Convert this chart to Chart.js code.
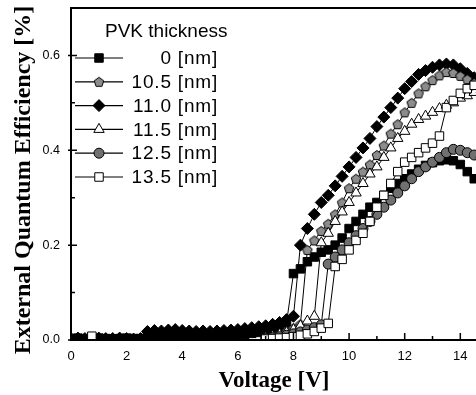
<!DOCTYPE html>
<html>
<head>
<meta charset="utf-8">
<script src="https://cdn.jsdelivr.net/npm/chart.js@4.4.1/dist/chart.umd.min.js"></script>
<style>
  html, body { margin: 0; padding: 0; background: #fff; overflow: hidden; }
  #wrap { width: 476px; height: 395px; overflow: hidden; }
</style>
</head>
<body>
<div id="wrap"><canvas id="eqeChart" width="490" height="395"></canvas></div>
<script>
// voltage steps shared by every thickness series
const voltage = [0, 0.25, 0.5, 0.75, 1, 1.25, 1.5, 1.75, 2, 2.25, 2.5, 2.75, 3, 3.25, 3.5, 3.75,
  4, 4.25, 4.5, 4.75, 5, 5.25, 5.5, 5.75, 6, 6.25, 6.5, 6.75, 7, 7.25, 7.5, 7.75,
  8, 8.25, 8.5, 8.75, 9, 9.25, 9.5, 9.75, 10, 10.25, 10.5, 10.75, 11, 11.25, 11.5, 11.75,
  12, 12.25, 12.5, 12.75, 13, 13.25, 13.5, 13.75, 14, 14.25, 14.5, 14.75];

const thicknessLabels = ['0 [nm]', '10.5 [nm]', '11.0 [nm]', '11.5 [nm]', '12.5 [nm]', '13.5 [nm]'];

// EQE [%] per PVK thickness
const eqe0 = [0.003, 0.004, 0.002, 0.003, 0.004, 0.003, 0.002, 0.003, 0.004, 0.003, 0.003,
  0.008, 0.010, 0.009, 0.011, 0.010, 0.009, 0.008, 0.009, 0.010, 0.009, 0.008, 0.009, 0.010, 0.011, 0.012, 0.014, 0.016, 0.018,
  0.022, 0.028, 0.036, 0.140, 0.150, 0.165, 0.175, 0.185, 0.190, 0.200, 0.215, 0.235, 0.250, 0.265, 0.280,
  0.290, 0.305, 0.320, 0.330, 0.340, 0.350, 0.360, 0.368, 0.374, 0.378, 0.380, 0.378, 0.370, 0.355, 0.340, 0.325];

const eqe105 = [null, null, null, null, null, null, null, null, null, null, null,
  null, null, null, null, null, null, null, null, null, null, null, null, null, null, null, null, null, 0.006,
  0.009, 0.013, 0.018, 0.025, 0.033, 0.190, 0.210, 0.230, 0.245, 0.265, 0.290, 0.320, 0.340, 0.355, 0.370,
  0.390, 0.410, 0.435, 0.455, 0.480, 0.500, 0.520, 0.535, 0.548, 0.558, 0.565, 0.563, 0.557, 0.550, 0.542, 0.535];

const eqe110 = [0.003, 0.004, 0.003, 0.002, 0.004, 0.003, 0.003, 0.004, 0.003, 0.002, 0.003,
  0.018, 0.020, 0.019, 0.021, 0.022, 0.020, 0.019, 0.018, 0.019, 0.018, 0.019, 0.020, 0.021, 0.022, 0.024, 0.026, 0.028, 0.030,
  0.033, 0.037, 0.043, 0.050, 0.200, 0.235, 0.265, 0.290, 0.305, 0.325, 0.345, 0.365, 0.385, 0.405, 0.425,
  0.450, 0.470, 0.490, 0.510, 0.530, 0.545, 0.560, 0.568, 0.575, 0.580, 0.582, 0.580, 0.572, 0.562, 0.553, 0.545];

const eqe115 = [null, null, null, null, null, null, null, null, null, null, null,
  null, null, null, null, null, null, null, null, null, null, null, null, null, null, null, null, null, 0.005,
  0.008, 0.012, 0.016, 0.022, 0.030, 0.040, 0.050, 0.205, 0.225, 0.250, 0.270, 0.290, 0.310, 0.330, 0.350,
  0.365, 0.385, 0.405, 0.425, 0.440, 0.455, 0.465, 0.472, 0.480, 0.488, 0.495, 0.500, 0.510, 0.515, 0.522, 0.528];

const eqe125 = [null, null, null, null, null, null, null, null, null, null, null,
  null, null, null, null, null, null, null, null, null, null, null, null, null, null, null, null, null, 0.003,
  0.005, 0.007, 0.010, 0.013, 0.017, 0.021, 0.026, 0.032, 0.160, 0.175, 0.190, 0.205, 0.220, 0.235, 0.250,
  0.265, 0.280, 0.295, 0.310, 0.325, 0.340, 0.355, 0.365, 0.375, 0.385, 0.395, 0.402, 0.400, 0.395, 0.390, 0.385];

const eqe135 = [null, null, null, 0.008, null, null, null, null, null, null, null,
  null, null, null, null, null, null, null, null, null, null, null, null, null, null, null, null, null, 0.002,
  0.003, 0.004, 0.005, 0.007, 0.010, 0.013, 0.018, 0.025, 0.035, 0.155, 0.170, 0.190, 0.210, 0.225, 0.250,
  0.280, 0.305, 0.330, 0.355, 0.375, 0.385, 0.395, 0.405, 0.415, 0.430, 0.490, 0.505, 0.520, 0.530, 0.537, 0.542];

const xTicks = { min: 0, max: 14.6, step: 1 };
const yTicks = { min: 0, max: 0.7, step: 0.1 };

// small gray pentagon used as point style for 10.5 nm
function makePentagon(size, fill) {
  const c = document.createElement('canvas');
  c.width = size; c.height = size;
  const g = c.getContext('2d');
  const r = size / 2 - 1;
  g.beginPath();
  for (let k = 0; k < 5; k++) {
    const a = -Math.PI / 2 + k * 2 * Math.PI / 5;
    const px = size / 2 + r * Math.cos(a), py = size / 2 + 0.5 + r * Math.sin(a);
    k ? g.lineTo(px, py) : g.moveTo(px, py);
  }
  g.closePath();
  g.fillStyle = fill; g.fill();
  g.strokeStyle = '#000'; g.lineWidth = 1; g.stroke();
  return c;
}
const pentagon = makePentagon(12, '#8c8c8c');

const styles = [
  { point: 'rect', fill: '#000', radius: 6, order: 4 },
  { point: pentagon, fill: '#8c8c8c', radius: 6, order: 3 },
  { point: 'rectRot', fill: '#000', radius: 6, order: 5 },
  { point: 'triangle', fill: '#fff', radius: 6, order: 2 },
  { point: 'circle', fill: '#707070', radius: 5, order: 1 },
  { point: 'rect', fill: '#fff', radius: 6, order: 0 }
];
const series = [eqe0, eqe105, eqe110, eqe115, eqe125, eqe135];

const datasets = series.map((vals, i) => ({
  label: thicknessLabels[i],
  data: voltage.map((v, j) => ({ x: v, y: vals[j] })),
  borderColor: '#000',
  borderWidth: 1,
  pointStyle: styles[i].point,
  pointRadius: styles[i].radius,
  pointBackgroundColor: styles[i].fill,
  pointBorderColor: '#000',
  pointBorderWidth: 1,
  order: styles[i].order,
  tension: 0,
  spanGaps: false
}));

function drawMarker(ctx, st, x, y) {
  const r = st.radius;
  ctx.save();
  ctx.fillStyle = st.fill; ctx.strokeStyle = '#000'; ctx.lineWidth = 1;
  if (typeof st.point !== 'string') {
    ctx.drawImage(st.point, x - st.point.width / 2, y - st.point.height / 2);
    ctx.restore();
    return;
  }
  ctx.beginPath();
  if (st.point === 'rect') {
    const s = r * Math.SQRT1_2;
    ctx.rect(x - s, y - s, 2 * s, 2 * s);
  } else if (st.point === 'rectRot') {
    ctx.moveTo(x, y - r); ctx.lineTo(x + r, y); ctx.lineTo(x, y + r); ctx.lineTo(x - r, y);
    ctx.closePath();
  } else if (st.point === 'triangle') {
    ctx.moveTo(x, y - r); ctx.lineTo(x + r * 0.866, y + r / 2); ctx.lineTo(x - r * 0.866, y + r / 2);
    ctx.closePath();
  } else {
    ctx.arc(x, y, r, 0, Math.PI * 2);
  }
  ctx.fill(); ctx.stroke();
  ctx.restore();
}

const framePlugin = {
  id: 'frame',
  afterDraw(chart) {
    const { ctx, chartArea: a, scales: { x, y } } = chart;
    ctx.save();
    ctx.strokeStyle = '#000';
    ctx.lineWidth = 2;
    ctx.beginPath();
    ctx.moveTo(a.right + 5, a.top); ctx.lineTo(a.left, a.top);
    ctx.lineTo(a.left, a.bottom); ctx.lineTo(a.right + 5, a.bottom);
    ctx.stroke();

    ctx.lineWidth = 1.5;
    ctx.beginPath();
    x.ticks.forEach(t => {
      const px = x.getPixelForValue(t.value);
      const len = Math.round(t.value) % 2 === 0 ? 7 : 4;
      ctx.moveTo(px, a.bottom); ctx.lineTo(px, a.bottom - len);
    });
    y.ticks.forEach(t => {
      const py = y.getPixelForValue(t.value);
      const major = Math.round(t.value * 10) % 2 === 0;
      ctx.moveTo(a.left - (major ? 3 : 0), py); ctx.lineTo(a.left + (major ? 6 : 4), py);
    });
    ctx.stroke();

    // legend inside the plot
    ctx.fillStyle = '#000';
    ctx.font = '19px "Liberation Sans", Arial, sans-serif';
    ctx.textBaseline = 'middle';
    ctx.textAlign = 'left';
    ctx.fillText('PVK thickness', 105, 32);
    ctx.letterSpacing = '0.8px';
    ctx.textAlign = 'right';
    thicknessLabels.forEach((lab, i) => {
      const ly = 58 + i * 23.8;
      ctx.lineWidth = 1.2;
      ctx.beginPath(); ctx.moveTo(75, ly); ctx.lineTo(123, ly); ctx.stroke();
      drawMarker(ctx, styles[i], 99, ly);
      ctx.fillText(lab, 218, ly + 1);
    });
    ctx.restore();
  }
};

new Chart(document.getElementById('eqeChart').getContext('2d'), {
  type: 'line',
  data: { datasets: datasets },
  options: {
    responsive: false,
    animation: false,
    layout: { padding: { top: 8, right: 13, left: 0, bottom: 0 } },
    plugins: { legend: { display: false }, tooltip: { enabled: false } },
    scales: {
      x: {
        type: 'linear',
        min: xTicks.min, max: xTicks.max,
        grid: { display: false, drawTicks: false },
        border: { display: false },
        ticks: {
          stepSize: xTicks.step, autoSkip: false, includeBounds: false, maxRotation: 0, padding: 9,
          color: '#000', font: { family: '"Liberation Sans", Arial, sans-serif', size: 13 },
          callback: v => (Math.round(v) % 2 === 0 ? String(v) : '')
        },
        title: {
          display: true, text: 'Voltage [V]', color: '#000', padding: { top: 0, bottom: 0 },
          font: { family: '"Liberation Serif", "Times New Roman", serif', size: 23, weight: 'bold' }
        },
        afterFit: s => { s.height = 55; s.paddingLeft = 0; s.paddingRight = 0; }
      },
      y: {
        type: 'linear',
        min: yTicks.min, max: yTicks.max,
        grid: { display: false, drawTicks: false },
        border: { display: false },
        ticks: {
          stepSize: yTicks.step, autoSkip: false, includeBounds: false, padding: 11,
          color: '#000', font: { family: '"Liberation Sans", Arial, sans-serif', size: 12.5 },
          callback: v => { const k = Math.round(v * 10); return k % 2 === 0 ? (k / 10).toFixed(1) : ''; }
        },
        title: {
          display: true, text: 'External Quantum Efficiency [%]\u00a0\u00a0', color: '#000', padding: { top: 9, bottom: 0 },
          font: { family: '"Liberation Serif", "Times New Roman", serif', size: 24, weight: 'bold' }
        },
        afterFit: s => { s.width = 71; s.paddingTop = 0; s.paddingBottom = 0; }
      }
    }
  },
  plugins: [framePlugin]
});
</script>
</body>
</html>
